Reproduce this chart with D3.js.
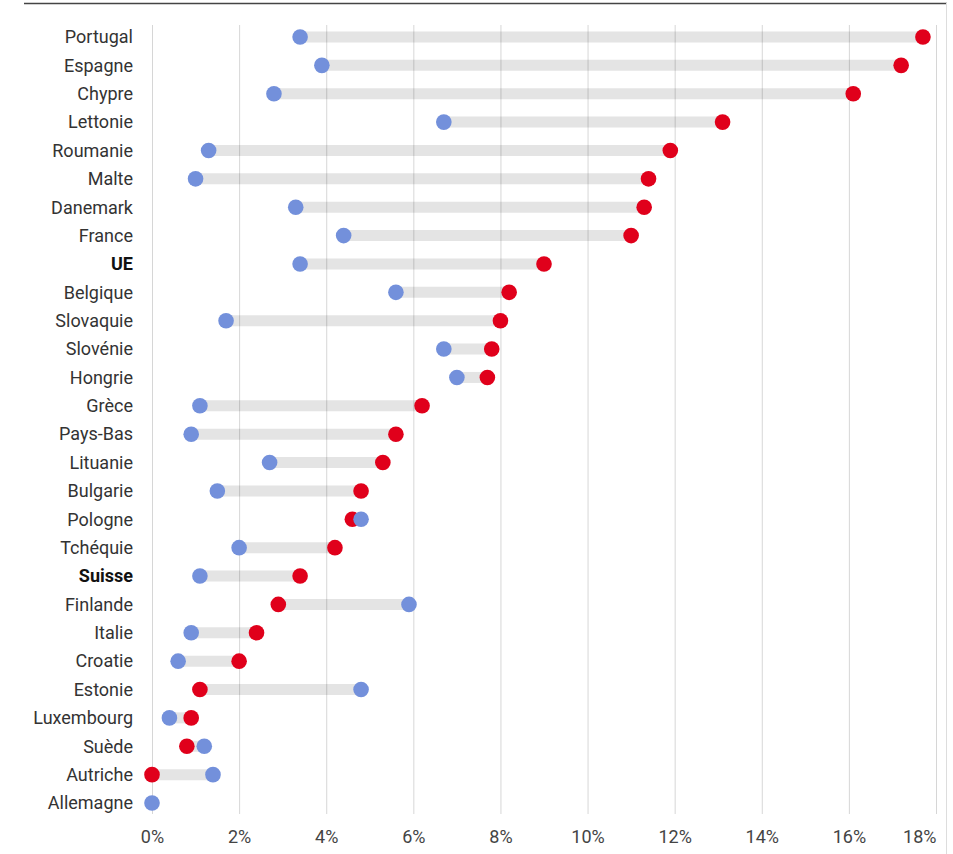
<!DOCTYPE html>
<html>
<head>
<meta charset="utf-8">
<script src="https://cdn.jsdelivr.net/npm/d3@7"></script>
<style>
  body { margin: 0; background: #fff; }
  text { font-family: Roboto, "Noto Sans", sans-serif; }
</style>
</head>
<body>
<div id="chart"></div>
<script>
const countries = ["Portugal", "Espagne", "Chypre", "Lettonie", "Roumanie", "Malte", "Danemark", "France",
    "UE", "Belgique", "Slovaquie", "Slovénie", "Hongrie", "Grèce", "Pays-Bas", "Lituanie", "Bulgarie",
    "Pologne", "Tchéquie", "Suisse", "Finlande", "Italie", "Croatie", "Estonie", "Luxembourg", "Suède",
    "Autriche", "Allemagne"];
const blueValues = [3.4, 3.9, 2.8, 6.7, 1.3, 1.0, 3.3, 4.4, 3.4, 5.6, 1.7, 6.7, 7.0, 1.1, 0.9, 2.7, 1.5,
    4.8, 2.0, 1.1, 5.9, 0.9, 0.6, 4.8, 0.4, 1.2, 1.4, 0];
// Allemagne: no red dot visible (hidden under the blue one)
const redValues = [17.7, 17.2, 16.1, 13.1, 11.9, 11.4, 11.3, 11.0, 9.0, 8.2, 8.0, 7.8, 7.7, 6.2, 5.6, 5.3, 4.8,
    4.6, 4.2, 3.4, 2.9, 2.4, 2.0, 1.1, 0.9, 0.8, 0, null];
const boldRows = ["UE", "Suisse"];
const xTicks = [0, 2, 4, 6, 8, 10, 12, 14, 16, 18];

const width = 953, height = 854;
const margin = {top: 37, right: 17, bottom: 51, left: 152};

const data = countries.map((c, i) => ({ name: c, blue: blueValues[i], red: redValues[i] }));

const svg = d3.select("#chart")
    .append("svg")
        .attr("width", width)
        .attr("height", height);

const x = d3.scaleLinear()
    .domain([0, 18])
    .range([margin.left, width - margin.right]);

const y = d3.scalePoint()
    .domain(countries)
    .range([margin.top, height - margin.bottom]);

// top rule and right frame edge
svg.append("line")
    .attr("x1", 24).attr("x2", 947)
    .attr("y1", 3.5).attr("y2", 3.5)
    .attr("stroke", "#444").attr("stroke-width", 1.3);
svg.append("line")
    .attr("x1", 946.5).attr("x2", 946.5)
    .attr("y1", 3).attr("y2", height)
    .attr("stroke", "#ddd");

// bars between the two values
svg.append("g")
    .selectAll("line")
    .data(data.filter(d => d.red !== null))
    .join("line")
        .attr("x1", d => x(Math.min(d.blue, d.red)))
        .attr("x2", d => x(Math.max(d.blue, d.red)))
        .attr("y1", d => y(d.name))
        .attr("y2", d => y(d.name))
        .attr("stroke", "#e4e4e4")
        .attr("stroke-width", 11);

// gridlines + ticks
const gridBottom = height - margin.bottom + 11;
svg.append("g")
    .attr("transform", `translate(0,${gridBottom})`)
    .call(d3.axisBottom(x)
        .tickValues(xTicks)
        .tickSize(-(gridBottom - 25))
        .tickSizeOuter(0)
        .tickPadding(12)
        .tickFormat(d => d + "%"))
    .call(g => g.select(".domain").remove())
    .call(g => g.selectAll(".tick line").attr("stroke", "rgba(0,0,0,0.16)"))
    .call(g => g.selectAll(".tick text")
        .attr("font-size", 18)
        .attr("fill", "#444")
        .attr("y", 16)
        .filter(d => d === 18)
            .attr("text-anchor", "end"));

// labels
svg.append("g")
    .selectAll("text")
    .data(data)
    .join("text")
        .attr("x", 133)
        .attr("y", d => y(d.name))
        .attr("dy", "0.35em")
        .attr("text-anchor", "end")
        .attr("font-size", 18)
        .attr("font-weight", d => boldRows.includes(d.name) ? "bold" : "normal")
        .attr("fill", d => boldRows.includes(d.name) ? "#111" : "#333")
        .text(d => d.name);

// red dots
svg.append("g")
    .selectAll("circle")
    .data(data.filter(d => d.red !== null))
    .join("circle")
        .attr("cx", d => x(d.red))
        .attr("cy", d => y(d.name))
        .attr("r", 7.8)
        .attr("fill", "#e0001b");

// blue dots
svg.append("g")
    .selectAll("circle")
    .data(data)
    .join("circle")
        .attr("cx", d => x(d.blue))
        .attr("cy", d => y(d.name))
        .attr("r", 7.8)
        .attr("fill", "#7390db");
</script>
</body>
</html>
